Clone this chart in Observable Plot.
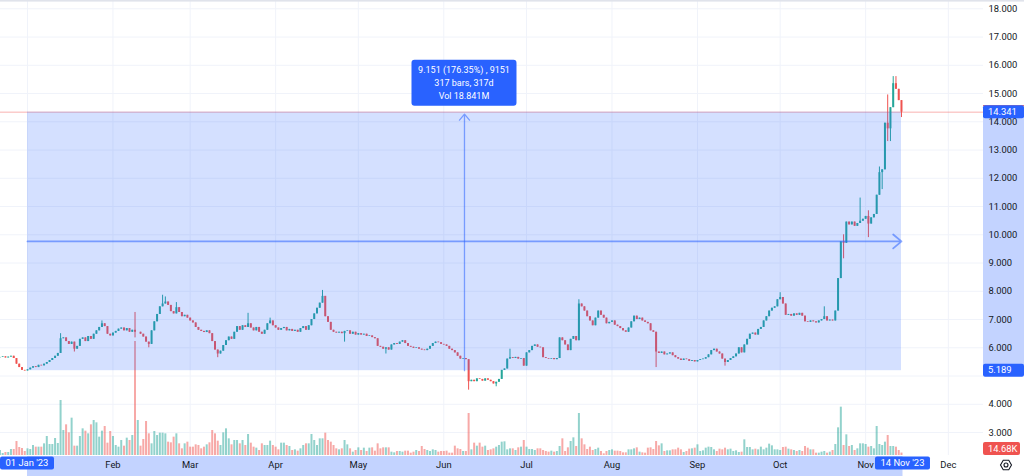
<!DOCTYPE html>
<html><head><meta charset="utf-8">
<script src="https://cdn.jsdelivr.net/npm/d3@7"></script>
<script src="https://cdn.jsdelivr.net/npm/@observablehq/plot@0.6"></script>
<style>
html,body{margin:0;padding:0;background:#fff;}
#wrap{position:relative;width:1024px;height:476px;overflow:hidden;font-family:Roboto,"Liberation Sans",sans-serif;background:#fff;}
#wrap > svg{position:absolute;left:0;top:0;}
</style></head><body><div id="wrap"></div>
<script>
// ---------- DATA (daily closes) ----------
const startDate = "2022-12-22";
const firstOpen = 5.65;
const closesDec22 = [5.66,5.68,5.64,5.67,5.70,5.62,5.42,5.30,5.20,5.18];
const closesJan = [5.22,5.28,5.33,5.30,5.38,5.36,5.42,5.48,5.55,5.62,5.70,5.80,6.32,6.35,6.22,6.12,6.20,5.95,6.05,6.30,6.35,6.22,6.40,6.30,6.48,6.60,6.72,6.85,6.75,6.48,6.42];
const closesFeb = [6.52,6.58,6.66,6.70,6.60,6.68,6.55,6.62,6.55,6.55,6.48,6.38,6.20,6.12,6.60,6.92,7.18,7.45,7.55,7.62,7.50,7.28,7.20,7.42,7.25,7.10,7.15,7.05];
const closesMar = [6.95,6.88,6.72,6.62,6.58,6.54,6.60,6.50,6.22,5.92,5.78,5.88,6.08,6.25,6.38,6.30,6.55,6.75,6.62,6.78,6.72,6.85,6.70,6.60,6.72,6.55,6.48,6.62,6.85,6.95,6.78];
const closesApr = [6.70,6.62,6.68,6.72,6.60,6.65,6.58,6.62,6.55,6.68,6.75,6.62,6.78,7.00,7.20,7.40,7.58,7.82,7.10,6.90,6.62,6.55,6.52,6.55,6.50,6.58,6.60,6.48,6.55,6.45];
const closesMay = [6.50,6.45,6.48,6.40,6.42,6.36,6.32,6.05,6.02,5.95,6.00,5.92,6.10,6.15,6.12,6.20,6.25,6.15,6.05,6.02,5.98,6.00,5.95,5.92,5.90,5.95,6.05,6.15,6.20,6.18,6.12];
const closesJun = [6.10,6.05,5.95,5.90,5.82,5.70,5.60,5.62,5.58,4.80,4.85,4.80,4.90,4.88,4.82,4.90,4.85,4.80,4.72,4.78,4.88,5.20,5.25,5.60,5.65,5.62,5.66,5.60,5.62,5.35];
const closesJul = [5.82,5.90,6.05,6.10,6.02,6.00,5.65,5.62,5.60,5.62,5.58,5.62,6.35,6.25,6.10,5.90,6.30,6.40,6.25,7.55,7.45,7.30,7.10,6.95,6.78,7.05,7.30,7.15,7.05,6.85,6.90];
const closesAug = [6.95,6.80,6.75,6.68,6.60,6.55,6.70,6.92,7.12,7.00,7.05,6.95,6.90,6.85,6.60,6.55,5.85,5.80,5.85,5.75,5.78,5.82,5.72,5.65,5.60,5.55,5.60,5.58,5.52,5.55,5.50];
const closesSep = [5.55,5.58,5.60,5.65,5.75,5.90,5.95,5.85,5.78,5.60,5.48,5.55,5.62,5.68,5.78,6.00,5.82,6.10,6.30,6.48,6.52,6.45,6.65,6.72,6.95,7.10,7.30,7.40,7.45,7.70];
const closesOct = [7.78,7.55,7.15,7.18,7.12,7.20,7.15,7.22,7.12,6.92,6.90,6.95,6.92,6.88,6.95,7.00,7.10,6.95,6.98,6.95,7.30,8.45,9.75,9.70,10.45,10.35,10.45,10.30,10.40,10.48,10.55];
const closesNov = [10.65,10.38,10.60,10.72,11.40,12.20,12.30,13.95,13.75,14.50,15.35,15.15,14.75,14.341];

// daily volume, thousands
const volDec22 = [30,12,18,18,36,36,84,48,42,24];
const volJan = [40,36,60,50,50,50,70,114,66,66,102,72,330,150,184,136,224,56,56,114,160,146,130,184,210,196,110,146,174,74,144];
const volFeb = [114,60,50,90,56,104,90,120,684,210,56,96,204,130,70,144,120,134,134,130,80,76,110,130,70,40,70,80];
const volMar = [50,50,64,60,40,50,64,76,150,130,86,60,136,160,100,64,90,90,70,90,60,126,74,50,44,30,70,60,60,86,60];
const volApr = [50,34,74,74,60,54,30,34,26,40,60,70,70,126,90,60,100,100,134,90,80,60,40,34,40,90,64,40,20,30];
const volMay = [46,30,44,24,44,46,26,70,40,46,46,46,20,16,24,24,20,26,26,14,20,30,24,54,36,30,24,34,30,20,24];
const volJun = [24,26,14,14,56,40,36,24,24,252,34,74,56,74,50,56,30,34,40,50,60,80,82,34,40,40,30,46,50,90];
const volJul = [50,36,36,30,40,40,30,24,20,26,20,24,54,100,24,46,84,106,54,252,100,64,36,50,30,36,44,24,10,24,30];
const volAug = [34,26,26,24,16,16,34,34,40,46,20,16,14,44,46,36,84,58,70,24,28,28,34,34,44,34,18,24,38,40,44];
const volSep = [64,24,28,44,50,48,34,24,38,34,44,34,38,24,28,18,20,94,48,48,34,38,34,50,34,44,68,58,34,34];
const volOct = [30,48,50,38,34,30,24,30,24,54,44,34,34,14,14,20,24,14,20,30,66,166,290,60,124,54,60,30,40,70,70];
const volNov = [66,50,54,40,174,66,60,80,120,54,54,50,30,14.68];

// notable wicks
const wickDates = ["2023-01-13","2023-01-18","2023-01-28","2023-02-09","2023-02-14","2023-02-19","2023-02-20","2023-02-24","2023-03-11","2023-03-22","2023-03-30","2023-04-18","2023-04-26","2023-05-11","2023-06-10","2023-06-20","2023-06-25","2023-07-20","2023-08-17","2023-09-11","2023-10-01","2023-10-17","2023-10-24","2023-10-30","2023-11-02","2023-11-06","2023-11-07","2023-11-09","2023-11-10","2023-11-11","2023-11-12","2023-11-14"];
const wickHighs = [6.5,null,6.95,7.25,null,7.86,7.8,7.6,null,7.22,7.05,8.03,null,null,null,null,5.95,7.7,null,null,7.95,7.45,10.0,11.3,10.85,12.4,null,14.95,null,15.6,15.6,null];
const wickLows  = [null,5.85,null,6.35,6.0,null,null,null,5.65,null,null,null,6.2,5.78,4.5,4.62,null,null,5.3,5.35,null,null,9.15,null,9.9,null,11.6,13.3,13.3,null,null,14.15];

const priceTicks = [3,4,5,6,7,8,9,10,11,12,13,14,15,16,17,18];
const gridMonths = ["2023-01-01","2023-02-01","2023-03-01","2023-04-01","2023-05-01","2023-06-01","2023-07-01","2023-08-01","2023-09-01","2023-10-01","2023-11-01","2023-12-01"];
const labelMonths = ["2023-02-01","2023-03-01","2023-04-01","2023-05-01","2023-06-01","2023-07-01","2023-08-01","2023-09-01","2023-10-01","2023-11-01","2023-12-01"];

const measureStart = "2023-01-01", measureEnd = "2023-11-14";
const measureLow = 5.189, measureHigh = 14.341;
const lastPrice = 14.341, lastVolume = 14.68;
const tooltipLines = ["9.151 (176.35%) , 9151", "317 bars, 317d", "Vol 18.841M"];
const startLabel = "01 Jan '23", endLabel = "14 Nov '23";
const lastVolumeLabel = "14.68K";

// ---------- build ----------
const UP = "#26a69a", DOWN = "#ef5350", BLUE = "#2962ff";
const closes = [].concat(closesDec22,closesJan,closesFeb,closesMar,closesApr,closesMay,closesJun,closesJul,closesAug,closesSep,closesOct,closesNov);
const vols = [].concat(volDec22,volJan,volFeb,volMar,volApr,volMay,volJun,volJul,volAug,volSep,volOct,volNov);
const t0 = Date.parse(startDate + "T00:00:00Z");
const DAY = 864e5;
const wickIdx = new Map(wickDates.map((d,i)=>[d,i]));
const rows = closes.map((c,i)=>{
  const date = new Date(t0 + i*DAY);
  const open = i === 0 ? firstOpen : closes[i-1];
  let high = Math.max(open,c), low = Math.min(open,c);
  const k = wickIdx.get(date.toISOString().slice(0,10));
  if (k !== undefined) {
    if (wickHighs[k] != null) high = Math.max(high, wickHighs[k]);
    if (wickLows[k] != null) low = Math.min(low, wickLows[k]);
  }
  return {date, open, close: c, high, low, vol: vols[i], color: c >= open ? UP : DOWN};
});
const utc = s => new Date(s + "T00:00:00Z");
const mStart = utc(measureStart), mEnd = utc(measureEnd);
const measure = {start: mStart, end: mEnd, mid: new Date((+mStart + +mEnd)/2), low: measureLow, high: measureHigh, midPrice: (measureLow+measureHigh)/2};

const W = 1024, H = 476;
const M = {marginLeft: 0, marginRight: 41, marginTop: 0, marginBottom: 21};
const xDomain = [new Date(Date.UTC(2022,11,22,4,58)), new Date(Date.UTC(2023,11,13,18,0))];
const yDomain = [2.187, 18.294];
const FONT = "Roboto, 'Liberation Sans', sans-serif";

const wrap = document.getElementById("wrap");

// layer 1: grid
const gridPlot = Plot.plot({
  width: W, height: H, ...M,
  style: {background: "transparent"},
  x: {type: "utc", domain: xDomain, axis: null},
  y: {domain: yDomain, axis: null},
  marks: [
    Plot.ruleY(priceTicks, {stroke: "#f0f3fa", strokeWidth: 1}),
    Plot.ruleX(gridMonths.map(utc), {stroke: "#f0f3fa", strokeWidth: 1})
  ]
});
wrap.appendChild(gridPlot);

// layer 2: volume
const volPlot = Plot.plot({
  width: W, height: H, ...M,
  style: {background: "transparent"},
  color: {type: "identity"},
  x: {type: "utc", domain: xDomain, axis: null},
  y: {domain: [0, 2730], axis: null},
  marks: [
    Plot.ruleX(rows, {x: "date", y1: 0, y2: "vol", stroke: "color", strokeOpacity: 0.5, strokeWidth: 2})
  ]
});
wrap.appendChild(volPlot);

// layer 3: price
const main = Plot.plot({
  width: W, height: H, ...M,
  style: {background: "transparent", fontFamily: FONT, fontSize: "9.4px", color: "#131722", overflow: "visible"},
  color: {type: "identity"},
  x: {type: "utc", domain: xDomain},
  y: {domain: yDomain},
  marks: [
    Plot.ruleY([lastPrice], {stroke: DOWN, strokeOpacity: 0.45, strokeWidth: 1}),
    Plot.ruleX(rows, {x: "date", y1: "low", y2: "high", stroke: "color", strokeWidth: 1}),
    Plot.ruleX(rows, {x: "date", y1: "open", y2: "close", stroke: "color", strokeWidth: 2}),
    Plot.rect([measure], {x1: "start", x2: "end", y1: "low", y2: "high", fill: BLUE, fillOpacity: 0.2}),
    Plot.arrow([measure], {x1: "mid", x2: "mid", y1: "low", y2: "high", stroke: BLUE, strokeOpacity: 0.55, strokeWidth: 1.3, headLength: 9, headAngle: 80, insetEnd: 2}),
    Plot.arrow([measure], {x1: "start", x2: "end", y1: "midPrice", y2: "midPrice", stroke: BLUE, strokeOpacity: 0.55, strokeWidth: 1.8, headLength: 9, headAngle: 80}),
    Plot.axisY({anchor: "right", ticks: priceTicks, tickFormat: d3.format(".3f"), tickSize: 0, tickPadding: 5, label: null}),
    Plot.axisX({ticks: labelMonths.map(utc), tickFormat: d3.utcFormat("%b"), tickSize: 0, tickPadding: 6, label: null})
  ]
});
wrap.appendChild(main);

// overlays positioned through the scales
const sx = main.scale("x"), sy = main.scale("y"), svy = volPlot.scale("y");
const svg = d3.select(main);
const right = W - M.marginRight;
const xS = sx.apply(mStart), xE = sx.apply(mEnd), xM = sx.apply(measure.mid);
const yHi = sy.apply(measureHigh), yLo = sy.apply(measureLow);
const yVolTag = Math.min(svy.apply(lastVolume), H - M.marginBottom - 6.5);

// top border
d3.select(gridPlot).append("rect").attr("x",0).attr("y",0).attr("width",W).attr("height",1.6).attr("fill","#e0e3eb");

// axis shading
const g = svg.append("g");
g.append("rect").attr("x", right).attr("y", yHi).attr("width", M.marginRight).attr("height", yLo - yHi).attr("fill", BLUE).attr("fill-opacity", 0.28);
g.append("rect").attr("x", xS).attr("y", H - M.marginBottom + 1).attr("width", xE - xS + 1.5).attr("height", M.marginBottom).attr("fill", BLUE).attr("fill-opacity", 0.28);

// tick labels hidden behind the axis tags (as in the original)
const yLabels = svg.select("g[aria-label='y-axis tick label']");
yLabels.selectAll("text").each(function() {
  const v = parseFloat(this.textContent);
  const py = sy.apply(v);
  if ([yHi, yLo, yVolTag].some(t => Math.abs(t - py) < 9)) d3.select(this).remove();
});
svg.node().appendChild(yLabels.node());
svg.node().appendChild(svg.select("g[aria-label='x-axis tick label']").node());

function tag(x, yc, w, text, fill, anchor) {
  const t = svg.append("g");
  t.append("rect").attr("x", x).attr("y", yc - 6.5).attr("width", w).attr("height", 13).attr("rx", 2).attr("fill", fill);
  t.append("text").attr("x", anchor === "middle" ? x + w/2 : x + 5).attr("y", yc).attr("dy", "0.35em")
   .attr("text-anchor", anchor || "start").attr("fill", "#fff").attr("font-size", "9.4px").attr("font-family", FONT).text(text);
}
svg.append("rect").attr("x", right).attr("y", yHi - 6.5).attr("width", M.marginRight).attr("height", 1).attr("fill", DOWN);
tag(right, yHi, M.marginRight, d3.format(".3f")(measureHigh), BLUE);
tag(right, yLo, M.marginRight, d3.format(".3f")(measureLow), BLUE);
tag(right, yVolTag, 37, lastVolumeLabel, DOWN);
tag(xS - 27, H - M.marginBottom + 8, 54, startLabel, BLUE, "middle");
tag(xE - 26, H - M.marginBottom + 8, 55, endLabel, BLUE, "middle");

// tooltip
const tw = 105, th = 46, tTop = yHi - 6 - th;
const tt = svg.append("g");
tt.append("rect").attr("x", xM - tw/2).attr("y", tTop).attr("width", tw).attr("height", th).attr("rx", 3).attr("fill", BLUE);
tooltipLines.forEach((s, i) => {
  tt.append("text").attr("x", xM).attr("y", tTop + 10 + i*13).attr("dy", "0.35em").attr("text-anchor", "middle")
    .attr("fill", "#fff").attr("font-size", "9px").attr("font-family", FONT).text(s);
});

// settings icon
const ic = svg.append("g").attr("transform", `translate(${W - 18},${H - 11})`).attr("fill", "none").attr("stroke", "#131722").attr("stroke-width", 1.1);
ic.append("path").attr("d", d3.range(6).map(i => { const a = Math.PI/3*i; return (i ? "L" : "M") + (5.5*Math.cos(a)).toFixed(2) + "," + (5.5*Math.sin(a)).toFixed(2); }).join("") + "Z");
ic.append("circle").attr("r", 2);
</script></body></html>
